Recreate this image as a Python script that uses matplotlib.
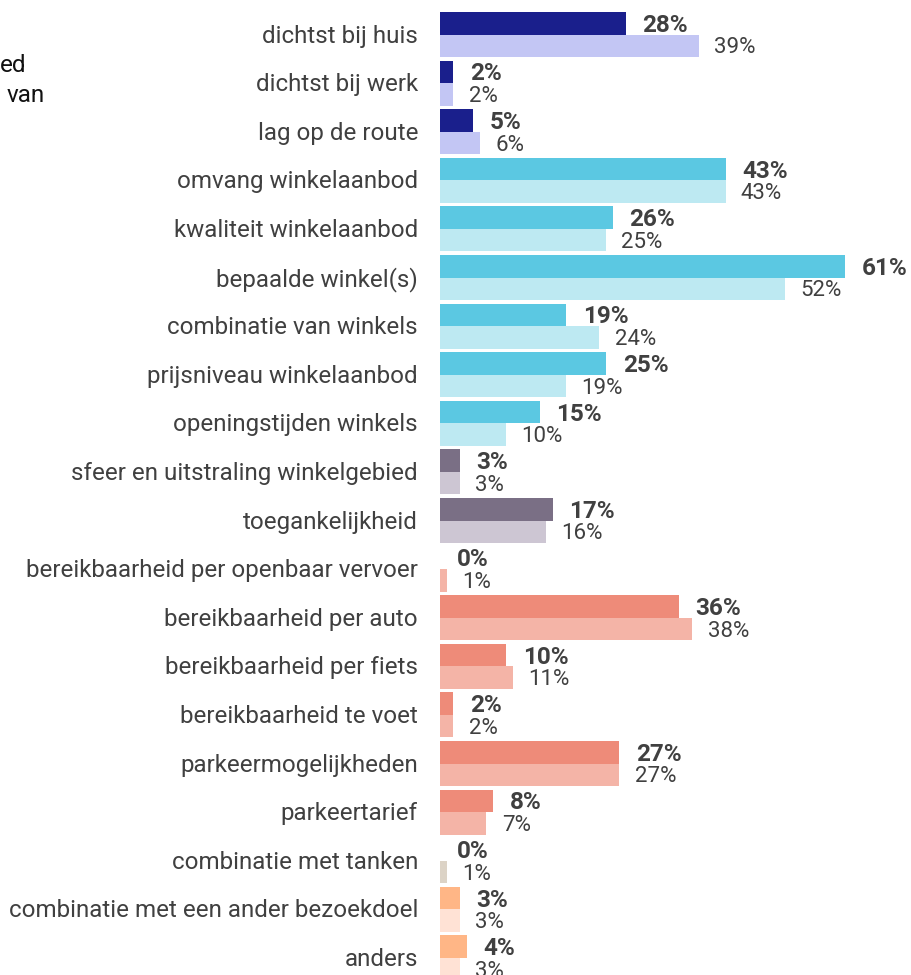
import matplotlib.pyplot as plt
from matplotlib.transforms import blended_transform_factory

plt.rcParams['font.family'] = ['Roboto', 'DejaVu Sans']

categories = [
    "dichtst bij huis", "dichtst bij werk", "lag op de route",
    "omvang winkelaanbod", "kwaliteit winkelaanbod", "bepaalde winkel(s)",
    "combinatie van winkels", "prijsniveau winkelaanbod", "openingstijden winkels",
    "sfeer en uitstraling winkelgebied", "toegankelijkheid",
    "bereikbaarheid per openbaar vervoer", "bereikbaarheid per auto",
    "bereikbaarheid per fiets", "bereikbaarheid te voet", "parkeermogelijkheden",
    "parkeertarief", "combinatie met tanken",
    "combinatie met een ander bezoekdoel", "anders",
]
values_main = [28, 2, 5, 43, 26, 61, 19, 25, 15, 3, 17, 0, 36, 10, 2, 27, 8, 0, 3, 4]
values_ref = [39, 2, 6, 43, 25, 52, 24, 19, 10, 3, 16, 1, 38, 11, 2, 27, 7, 1, 3, 3]

# colour group per category (dark, light)
groups = [0, 0, 0, 1, 1, 1, 1, 1, 1, 2, 2, 3, 3, 3, 3, 3, 3, 4, 5, 5]
dark_colors = ['#1a1f8c', '#5bc8e2', '#7a6f85', '#ee8b79', '#dcd3c6', '#ffb686']
light_colors = ['#c3c6f4', '#bde9f2', '#cdc6d3', '#f4b4a7', '#dcd3c6', '#ffe2d5']

fig = plt.figure(figsize=(9.11, 9.75), dpi=100)
ax = fig.add_axes([440 / 911, 0, 471 / 911, 1])

h = 0.463
for i, cat in enumerate(categories):
    g = groups[i]
    ax.barh(i - h / 2, values_main[i], height=h, color=dark_colors[g])
    ax.barh(i + h / 2, values_ref[i], height=h, color=light_colors[g])
    ax.annotate(f"{values_main[i]}%", (values_main[i], i - h / 2),
                xytext=(12, -1.5), textcoords='offset points',
                ha='left', va='center', fontsize=17.5, fontweight='bold', color='#404040')
    ax.annotate(f"{values_ref[i]}%", (values_ref[i], i + h / 2),
                xytext=(11, -1.5), textcoords='offset points',
                ha='left', va='center', fontsize=16, color='#404040')

trans = blended_transform_factory(ax.transAxes, ax.transData)
for i, cat in enumerate(categories):
    ax.annotate(cat, (-22 / 471, i), xycoords=trans, xytext=(0, -1.2),
                textcoords='offset points', ha='right', va='center',
                fontsize=17.4, color='#404040')

# partly hidden text at the left edge
fig.text(0 / 911, 1 - 72 / 975, "ed", ha='left', va='baseline', fontsize=17.5, color='#111111')
fig.text(7 / 911, 1 - 102 / 975, "van", ha='left', va='baseline', fontsize=17.5, color='#111111')

ax.set_xlim(0, 471 / 6.64)
ax.set_ylim((975 - 34.5) / 48.6, -34.5 / 48.6)
ax.axis('off')

fig.savefig('out.png', dpi=100)
